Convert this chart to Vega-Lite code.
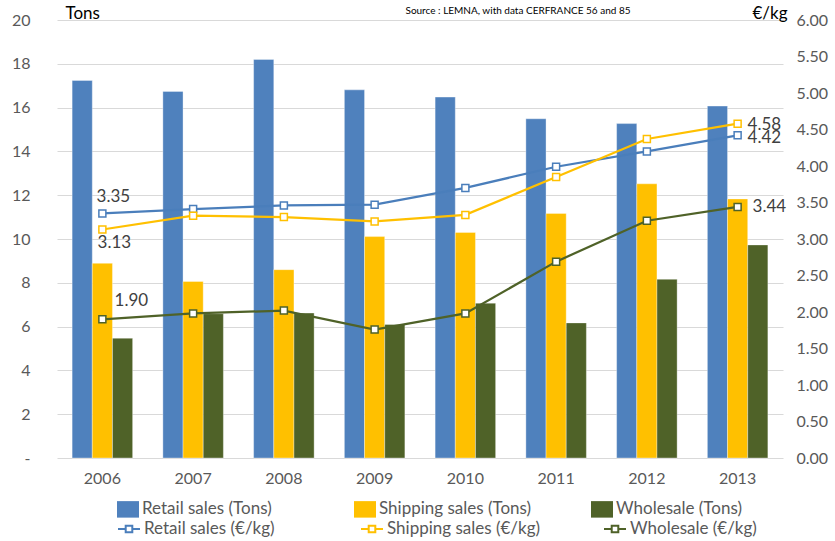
{
  "$schema": "https://vega.github.io/schema/vega-lite/v6.json",
  "autosize": {"type": "none"},
  "padding": {"left": 57, "top": 20, "right": 52, "bottom": 83},
  "width": 726,
  "height": 438,
  "config": {
    "font": "Lato",
    "view": {"stroke": null},
    "axis": {"labelColor": "#595959", "labelFontSize": 16, "ticks": false, "domain": false, "titleFontWeight": "normal", "titleColor": "#000000", "titleFontSize": 17},
    "legend": {"labelFontSize": 17, "labelColor": "#595959", "padding": 0}
  },
  "title": {"text": "Source : LEMNA, with data CERFRANCE 56 and 85", "fontSize": 10, "fontWeight": "normal", "color": "#000000", "anchor": "middle", "dx": 98, "offset": -12},
  "datasets": {
    "tons": [
      {"year": "2006", "series": "Retail sales (Tons)", "tons": 17.24},
      {"year": "2006", "series": "Shipping sales (Tons)", "tons": 8.89},
      {"year": "2006", "series": "Wholesale (Tons)", "tons": 5.47},
      {"year": "2007", "series": "Retail sales (Tons)", "tons": 16.74},
      {"year": "2007", "series": "Shipping sales (Tons)", "tons": 8.06},
      {"year": "2007", "series": "Wholesale (Tons)", "tons": 6.59},
      {"year": "2008", "series": "Retail sales (Tons)", "tons": 18.2},
      {"year": "2008", "series": "Shipping sales (Tons)", "tons": 8.6},
      {"year": "2008", "series": "Wholesale (Tons)", "tons": 6.62},
      {"year": "2009", "series": "Retail sales (Tons)", "tons": 16.81},
      {"year": "2009", "series": "Shipping sales (Tons)", "tons": 10.11},
      {"year": "2009", "series": "Wholesale (Tons)", "tons": 6.1},
      {"year": "2010", "series": "Retail sales (Tons)", "tons": 16.48},
      {"year": "2010", "series": "Shipping sales (Tons)", "tons": 10.3},
      {"year": "2010", "series": "Wholesale (Tons)", "tons": 7.07},
      {"year": "2011", "series": "Retail sales (Tons)", "tons": 15.49},
      {"year": "2011", "series": "Shipping sales (Tons)", "tons": 11.17},
      {"year": "2011", "series": "Wholesale (Tons)", "tons": 6.17},
      {"year": "2012", "series": "Retail sales (Tons)", "tons": 15.27},
      {"year": "2012", "series": "Shipping sales (Tons)", "tons": 12.52},
      {"year": "2012", "series": "Wholesale (Tons)", "tons": 8.16},
      {"year": "2013", "series": "Retail sales (Tons)", "tons": 16.07},
      {"year": "2013", "series": "Shipping sales (Tons)", "tons": 11.83},
      {"year": "2013", "series": "Wholesale (Tons)", "tons": 9.73}
    ],
    "price": [
      {"year": "2006", "series": "Retail sales (€/kg)", "price": 3.35},
      {"year": "2007", "series": "Retail sales (€/kg)", "price": 3.41},
      {"year": "2008", "series": "Retail sales (€/kg)", "price": 3.46},
      {"year": "2009", "series": "Retail sales (€/kg)", "price": 3.47},
      {"year": "2010", "series": "Retail sales (€/kg)", "price": 3.70},
      {"year": "2011", "series": "Retail sales (€/kg)", "price": 3.99},
      {"year": "2012", "series": "Retail sales (€/kg)", "price": 4.20},
      {"year": "2013", "series": "Retail sales (€/kg)", "price": 4.42},
      {"year": "2006", "series": "Shipping sales (€/kg)", "price": 3.13},
      {"year": "2007", "series": "Shipping sales (€/kg)", "price": 3.32},
      {"year": "2008", "series": "Shipping sales (€/kg)", "price": 3.30},
      {"year": "2009", "series": "Shipping sales (€/kg)", "price": 3.24},
      {"year": "2010", "series": "Shipping sales (€/kg)", "price": 3.33},
      {"year": "2011", "series": "Shipping sales (€/kg)", "price": 3.85},
      {"year": "2012", "series": "Shipping sales (€/kg)", "price": 4.37},
      {"year": "2013", "series": "Shipping sales (€/kg)", "price": 4.58},
      {"year": "2006", "series": "Wholesale (€/kg)", "price": 1.90},
      {"year": "2007", "series": "Wholesale (€/kg)", "price": 1.98},
      {"year": "2008", "series": "Wholesale (€/kg)", "price": 2.02},
      {"year": "2009", "series": "Wholesale (€/kg)", "price": 1.76},
      {"year": "2010", "series": "Wholesale (€/kg)", "price": 1.98},
      {"year": "2011", "series": "Wholesale (€/kg)", "price": 2.69},
      {"year": "2012", "series": "Wholesale (€/kg)", "price": 3.25},
      {"year": "2013", "series": "Wholesale (€/kg)", "price": 3.44}
    ]
  },
  "layer": [
    {
      "data": {"name": "tons"},
      "mark": {"type": "bar", "stroke": "#ffffff", "strokeOpacity": 0.35, "strokeWidth": 1},
      "encoding": {
        "x": {
          "field": "year", "type": "nominal", "title": null,
          "scale": {"paddingInner": 0.3333, "paddingOuter": 0.16667},
          "axis": {"labelAngle": 0, "labelPadding": 12, "grid": false}
        },
        "xOffset": {
          "field": "series", "type": "nominal",
          "scale": {"domain": ["Retail sales (Tons)", "Shipping sales (Tons)", "Wholesale (Tons)"], "paddingInner": 0, "paddingOuter": 0}
        },
        "y": {
          "field": "tons", "type": "quantitative",
          "scale": {"domain": [0, 20], "nice": false},
          "axis": {
            "orient": "left", "values": [0, 2, 4, 6, 8, 10, 12, 14, 16, 18, 20],
            "labelExpr": "datum.value == 0 ? '-' : datum.label",
            "labelPadding": 27, "grid": true, "gridColor": "#D9D9D9", "gridWidth": 1,
            "title": "Tons", "titleAngle": 0, "titleAlign": "left", "titleBaseline": "alphabetic", "titleX": 8, "titleY": -2
          }
        },
        "fill": {
          "field": "series", "type": "nominal",
          "scale": {"domain": ["Retail sales (Tons)", "Shipping sales (Tons)", "Wholesale (Tons)"], "range": ["#4F81BD", "#FFC000", "#4F6228"]},
          "legend": {
            "title": null, "orient": "none", "legendX": 60, "legendY": 478,
            "direction": "horizontal", "columns": 3, "gridAlign": "all", "columnPadding": 59,
            "symbolType": "M-1,-0.75H1V0.75H-1Z", "symbolSize": 484, "symbolStrokeWidth": 0, "labelOffset": 3
          }
        }
      }
    },
    {
      "data": {"name": "price"},
      "encoding": {
        "x": {"field": "year", "type": "nominal"},
        "y": {
          "field": "price", "type": "quantitative",
          "scale": {"domain": [0, 6], "nice": false},
          "axis": {
            "orient": "right", "values": [0, 0.5, 1, 1.5, 2, 2.5, 3, 3.5, 4, 4.5, 5, 5.5, 6],
            "format": ".2f", "labelPadding": 13, "grid": false,
            "title": "€/kg", "titleAngle": 0, "titleAlign": "right", "titleBaseline": "alphabetic", "titleX": 4, "titleY": -2
          }
        }
      },
      "layer": [
        {
          "mark": {"type": "line", "strokeWidth": 2.25},
          "encoding": {
            "stroke": {
              "field": "series", "type": "nominal",
              "scale": {"domain": ["Retail sales (€/kg)", "Shipping sales (€/kg)", "Wholesale (€/kg)"], "range": ["#4A7EBB", "#FFC000", "#4F6228"]},
              "legend": {
                "title": null, "orient": "none", "legendX": 60, "legendY": 497,
                "direction": "horizontal", "columns": 3, "gridAlign": "all", "columnPadding": 59,
                "symbolType": "M-1,0H-0.3M0.3,0H1M-0.3,-0.3H0.3V0.3H-0.3Z", "symbolSize": 484, "symbolStrokeWidth": 2, "labelOffset": 3,
                "symbolFillColor": "#ffffff",
                "encode": {"symbols": {"update": {"fill": {"value": "#ffffff"}, "strokeWidth": {"value": 2}}}}
              }
            }
          }
        },
        {
          "mark": {"type": "point", "shape": "square", "size": 49, "fill": "#ffffff", "filled": false, "opacity": 1, "strokeWidth": 1.5},
          "encoding": {
            "stroke": {"field": "series", "type": "nominal"}
          }
        },
        {
          "transform": [{"filter": "datum.year == '2006' && datum.series == 'Retail sales (€/kg)'"}],
          "mark": {"type": "text", "fontSize": 17, "color": "#404040", "dx": 11, "dy": -16},
          "encoding": {"text": {"field": "price", "type": "quantitative", "format": ".2f"}}
        },
        {
          "transform": [{"filter": "datum.year == '2006' && datum.series == 'Shipping sales (€/kg)'"}],
          "mark": {"type": "text", "fontSize": 17, "color": "#404040", "dx": 12, "dy": 13},
          "encoding": {"text": {"field": "price", "type": "quantitative", "format": ".2f"}}
        },
        {
          "transform": [{"filter": "datum.year == '2006' && datum.series == 'Wholesale (€/kg)'"}],
          "mark": {"type": "text", "fontSize": 17, "color": "#404040", "dx": 29, "dy": -18},
          "encoding": {"text": {"field": "price", "type": "quantitative", "format": ".2f"}}
        },
        {
          "transform": [{"filter": "datum.year == '2013' && datum.series == 'Shipping sales (€/kg)'"}],
          "mark": {"type": "text", "fontSize": 17, "color": "#404040", "align": "left", "dx": 10, "dy": 1},
          "encoding": {"text": {"field": "price", "type": "quantitative", "format": ".2f"}}
        },
        {
          "transform": [{"filter": "datum.year == '2013' && datum.series == 'Retail sales (€/kg)'"}],
          "mark": {"type": "text", "fontSize": 17, "color": "#404040", "align": "left", "dx": 10, "dy": 3},
          "encoding": {"text": {"field": "price", "type": "quantitative", "format": ".2f"}}
        },
        {
          "transform": [{"filter": "datum.year == '2013' && datum.series == 'Wholesale (€/kg)'"}],
          "mark": {"type": "text", "fontSize": 17, "color": "#404040", "align": "left", "dx": 15, "dy": 0},
          "encoding": {"text": {"field": "price", "type": "quantitative", "format": ".2f"}}
        }
      ]
    }
  ],
  "resolve": {"scale": {"y": "independent"}}
}
